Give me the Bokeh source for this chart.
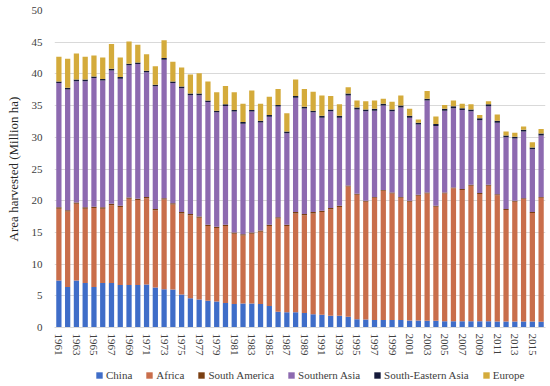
from bokeh.plotting import figure
from bokeh.layouts import column
from bokeh.models import Legend, LegendItem, SingleIntervalTicker, FixedTicker, ColumnDataSource, Range1d
from bokeh.embed import file_html
from bokeh.resources import INLINE

years = list(range(1961, 2017))
tick_years = [y for y in years if y % 2 == 1]

china = [7.4, 6.4, 7.4, 7.0, 6.4, 7.0, 7.0, 6.7, 6.7, 6.7, 6.8, 6.3, 6.05, 6.0, 5.2, 4.6, 4.4,
         4.2, 4.1, 3.85, 3.7, 3.8, 3.8, 3.7, 3.4, 2.5, 2.4, 2.4, 2.3, 2.1, 2.0, 1.85, 1.85,
         1.7, 1.3, 1.25, 1.2, 1.2, 1.2, 1.2, 1.1, 1.1, 1.05, 1.05, 1.0, 1.0, 1.0, 1.0, 1.0,
         1.0, 0.95, 0.95, 0.95, 0.95, 0.95, 0.9]
africa = [11.35, 11.9, 12.1, 11.75, 12.45, 11.75, 12.3, 12.3, 13.6, 13.4, 13.6, 12.2, 14.15,
          13.4, 12.8, 13.1, 12.9, 11.8, 11.6, 12.15, 11.1, 10.7, 11.0, 11.4, 12.6, 14.7, 13.6,
          15.6, 15.4, 15.9, 16.2, 16.8, 17.15, 20.55, 19.65, 18.6, 19.25, 20.35, 19.95, 19.25,
          18.75, 19.7, 20.1, 18.0, 20.15, 20.95, 20.7, 21.35, 20.05, 21.35, 19.9, 17.6, 18.9,
          19.3, 17.1, 19.55]
south_america = [0.2] * 33 + [0.15] * 23
southern_asia = [19.6, 19.05, 19.15, 19.9, 20.3, 20.0, 21.05, 20.05, 20.85, 21.25, 19.65, 19.35,
                 21.85, 18.95, 19.55, 18.75, 19.15, 19.35, 18.05, 18.75, 19.05, 17.45, 19.05,
                 17.05, 17.05, 17.45, 14.45, 18.05, 16.65, 15.75, 14.7, 15.25, 13.9, 14.2, 13.3,
                 14.1, 13.6, 13.3, 12.8, 14.1, 13.1, 11.05, 14.5, 12.6, 12.9, 12.5, 12.45, 11.6,
                 11.5, 12.4, 11.3, 11.3, 9.8, 10.5, 9.9, 9.7]
se_asia = [0.25] * 30 + [0.3] * 26
europe = [3.9, 4.6, 4.1, 3.6, 3.3, 3.4, 3.9, 3.1, 3.5, 2.8, 2.6, 2.9, 2.8, 3.1, 3.0, 3.0, 3.2,
          3.0, 2.9, 2.9, 2.8, 2.9, 3.1, 2.7, 2.9, 2.5, 2.9, 2.6, 2.8, 3.0, 3.2, 2.1, 1.8, 1.0,
          1.1, 1.3, 1.3, 0.8, 1.2, 1.6, 1.1, 0.5, 1.2, 1.2, 0.6, 0.9, 0.7, 0.8, 0.5, 0.5, 1.0,
          0.6, 0.6, 0.5, 0.8, 0.7]

series = ["China", "Africa", "South America", "Southern Asia", "South-Eastern Asia", "Europe"]
colors = ["#3F6DC8", "#C96E4B", "#7B3F12", "#8D6AB0", "#151A3A", "#D4AB3B"]

source = ColumnDataSource(data=dict(year=years, **{
    "China": china, "Africa": africa, "South America": south_america,
    "Southern Asia": southern_asia, "South-Eastern Asia": se_asia, "Europe": europe}))

FONT = "Liberation Serif"

p = figure(x_range=Range1d(1960.5, 2016.5), y_range=Range1d(0, 50),
           width=550, height=360,
           output_backend="svg", toolbar_location=None,
           min_border_left=54, min_border_right=5, min_border_top=10, min_border_bottom=33)

p.vbar_stack(series, x="year", width=0.6, color=colors, source=source, line_color=None)

p.outline_line_color = None
p.xgrid.grid_line_color = None
p.ygrid.grid_line_color = "#d9d9d9"
p.ygrid.grid_line_width = 1

p.yaxis.ticker = SingleIntervalTicker(interval=5)
p.yaxis.axis_line_color = None
p.yaxis.major_tick_line_color = None
p.yaxis.minor_tick_line_color = None
p.yaxis.major_tick_out = 0
p.yaxis.major_label_text_font = FONT
p.yaxis.major_label_text_font_size = "11px"
p.yaxis.major_label_text_color = "#404040"
p.yaxis.major_label_standoff = 8
p.yaxis.axis_label = "Area harvested (Million ha)"
p.yaxis.axis_label_text_font = FONT
p.yaxis.axis_label_text_font_size = "13px"
p.yaxis.axis_label_text_font_style = "normal"
p.yaxis.axis_label_text_color = "#262626"
p.yaxis.axis_label_standoff = 8

p.xaxis.ticker = FixedTicker(ticks=tick_years)
p.xaxis.axis_line_color = "#d9d9d9"
p.xaxis.major_tick_line_color = None
p.xaxis.minor_tick_line_color = None
p.xaxis.major_tick_out = 0
p.xaxis.major_label_orientation = "vertical"
p.xaxis.major_label_text_font = FONT
p.xaxis.major_label_text_font_size = "11px"
p.xaxis.major_label_text_color = "#404040"
p.xaxis.major_label_standoff = 6

# legend strip below the chart
q = figure(x_range=Range1d(1960.5, 2016.5), y_range=Range1d(100, 101),
           width=550, height=26, output_backend="svg", toolbar_location=None,
           x_axis_location=None, y_axis_location=None, min_border=0)
q.outline_line_color = None
q.xgrid.grid_line_color = None
q.ygrid.grid_line_color = None
legend_renderers = q.vbar_stack(series, x="year", width=0.6, color=colors, source=source,
                                line_color=None)

legend = Legend(items=[LegendItem(label=s, renderers=[r]) for s, r in zip(series, legend_renderers)],
                orientation="horizontal", location=(41, 5))
legend.label_text_font = FONT
legend.label_text_font_size = "11px"
legend.label_text_color = "#404040"
legend.glyph_width = 8
legend.glyph_height = 8
legend.label_height = 12
legend.label_standoff = 3
legend.spacing = 13
legend.padding = 2
legend.margin = 0
legend.border_line_color = None
legend.background_fill_alpha = 0
q.add_layout(legend, "center")

open("out.html", "w").write(file_html(column(p, q, spacing=0), INLINE))
